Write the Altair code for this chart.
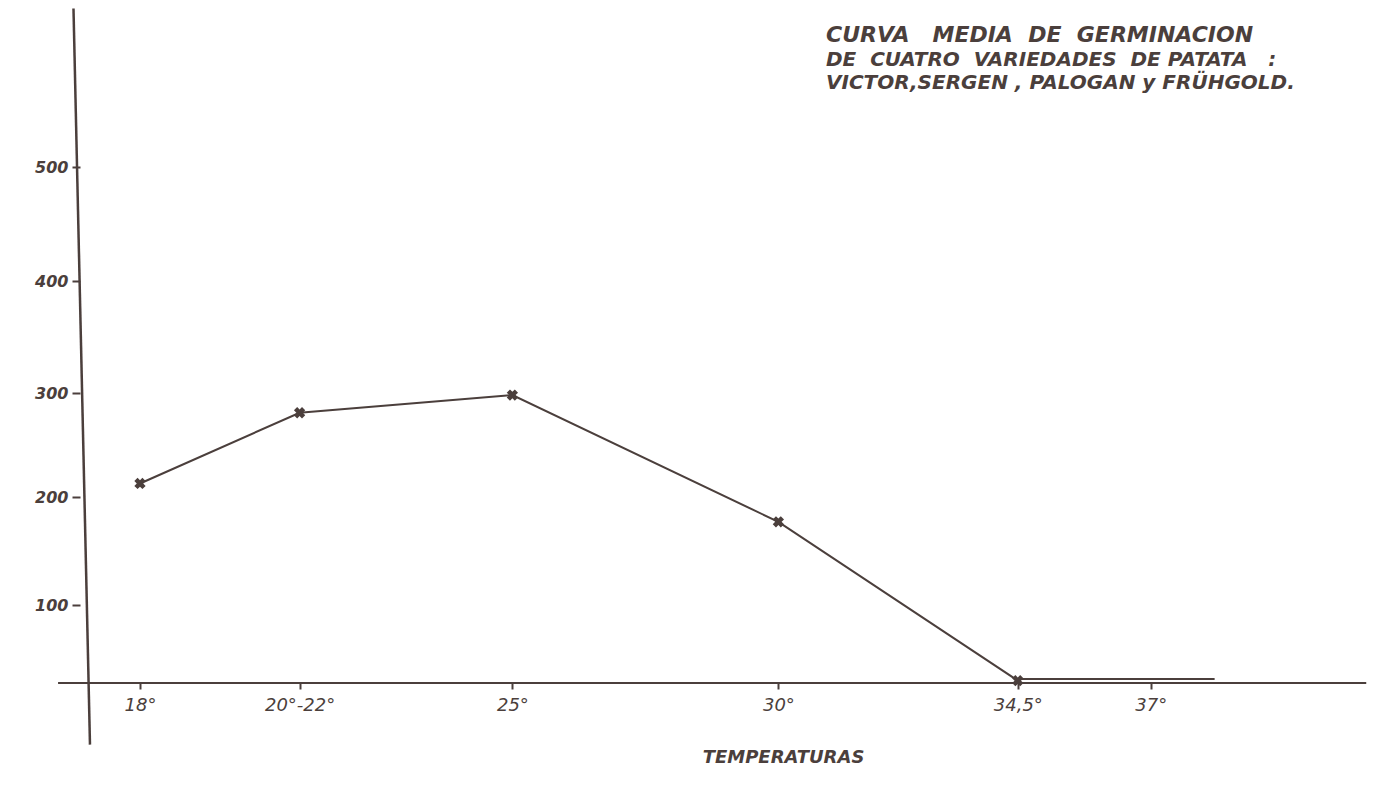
import altair as alt
import pandas as pd

# ---- data ----
temps = [18, 21, 25, 30, 34.5]
germination = [213, 281, 298, 177, 3]
tick_temps = [18, 21, 25, 30, 34.5, 37]
tick_labels = ["18°", "20°-22°", "25°", "30°", "34,5°", "37°"]
y_ticks = [0, 100, 200, 300, 400, 500]
y_tick_labels_shown = [100, 200, 300, 400, 500]
ext_temps = [34.5, 38.2]
ext_germination = [5, 5]
NB = "\u00a0"
title_line = "CURVA" + NB * 3 + "MEDIA" + NB * 2 + "DE" + NB * 2 + "GERMINACION"
subtitle_lines = [
    "DE" + NB * 2 + "CUATRO" + NB * 2 + "VARIEDADES" + NB * 2 + "DE" + NB + "PATATA" + NB * 3 + ":",
    "VICTOR,SERGEN , PALOGAN y FRÜHGOLD.",
]
x_title = "TEMPERATURAS"

# ---- styling / layout constants (hand-drawn axis geometry) ----
INK = "#4b3f3c"
FONT = "DejaVu Sans"
X_DOMAIN = [15.519, 41.083]
Y_RANGE = [675, 597, 489, 385, 273, 159]   # pixel rows of the hand-drawn ticks
X_AXIS_SPAN = [16.46, 41.05]
Y_AXIS_X = [16.75, 17.06]
Y_AXIS_Y = [639.0, -79.0]

xs = alt.Scale(domain=X_DOMAIN, nice=False, zero=False)
ys = alt.Scale(domain=y_ticks, range=Y_RANGE, nice=False, zero=False)

label_expr = ""
for v, lab in zip(tick_temps, tick_labels):
    label_expr += f"datum.value == {v} ? '{lab}' : "
label_expr += "''"

x_axis = alt.Axis(
    values=tick_temps, labelExpr=label_expr, offset=-114,
    domain=False, grid=False, ticks=True, tickSize=6, tickWidth=2,
    tickColor=INK, labelFont=FONT, labelFontSize=18, labelFontStyle="italic",
    labelColor=INK, labelPadding=7, labelFlush=False, labelOverlap=False,
    title=x_title, titleFont=FONT, titleFontSize=18, titleFontStyle="italic",
    titleFontWeight="bold", titleColor=INK, titleX=775, titleY=74,
    titleAlign="center", titleBaseline="middle")
y_axis = alt.Axis(
    values=y_tick_labels_shown, offset=-72, domain=False, grid=False, tickSize=8,
    tickWidth=2, tickColor=INK, labelFont=FONT, labelFontSize=16,
    labelFontWeight="bold", labelFontStyle="italic", labelColor=INK,
    labelPadding=4, title=None)


def X(f):
    return alt.X(f, type="quantitative", scale=xs, axis=x_axis)


def Y(f):
    return alt.Y(f, type="quantitative", scale=ys, axis=y_axis)


df = pd.DataFrame({"t": temps, "g": germination})
ext = pd.DataFrame({"t": ext_temps, "g": ext_germination})
xaxis_df = pd.DataFrame({"t": [X_AXIS_SPAN[0]], "t2": [X_AXIS_SPAN[1]], "g": [0]})
yaxis_df = pd.DataFrame({"t": [Y_AXIS_X[0]], "t2": [Y_AXIS_X[1]],
                         "g": [Y_AXIS_Y[0]], "g2": [Y_AXIS_Y[1]]})

x_axis_rule = alt.Chart(xaxis_df).mark_rule(color=INK, strokeWidth=2).encode(
    x=X("t"), x2=alt.X2("t2"), y=Y("g"))

y_axis_rule = alt.Chart(yaxis_df).mark_rule(color=INK, strokeWidth=2.5).encode(
    x=X("t"), x2=alt.X2("t2"), y=Y("g"), y2=alt.Y2("g2"))

ext_line = alt.Chart(ext).mark_line(color=INK, strokeWidth=2).encode(
    x=X("t"), y=Y("g"))

line = alt.Chart(df).mark_line(color=INK, strokeWidth=2).encode(
    x=X("t"), y=Y("g"))

pts = alt.Chart(df).mark_point(shape="cross", filled=True, angle=45, size=130,
                               color=INK, opacity=1).encode(x=X("t"), y=Y("g"))

chart = alt.layer(x_axis_rule, y_axis_rule, ext_line, line, pts).properties(
    width=1360, height=789,
    autosize=alt.AutoSizeParams(type="none"),
    padding=0,
    background="white",
    title=alt.Title(text=title_line, subtitle=subtitle_lines,
                    anchor="start", orient="top", frame="group",
                    dx=818, dy=87, offset=0, fontSize=22,
                    font=FONT, fontStyle="italic", fontWeight="bold",
                    color=INK, subtitleFont=FONT, subtitleFontSize=20,
                    subtitleFontStyle="italic", subtitleFontWeight="bold",
                    subtitleColor=INK, subtitleLineHeight=23.5,
                    subtitlePadding=3),
).configure_view(stroke=None)

chart.save("out.html", embed_options={"renderer": "svg", "actions": False})
